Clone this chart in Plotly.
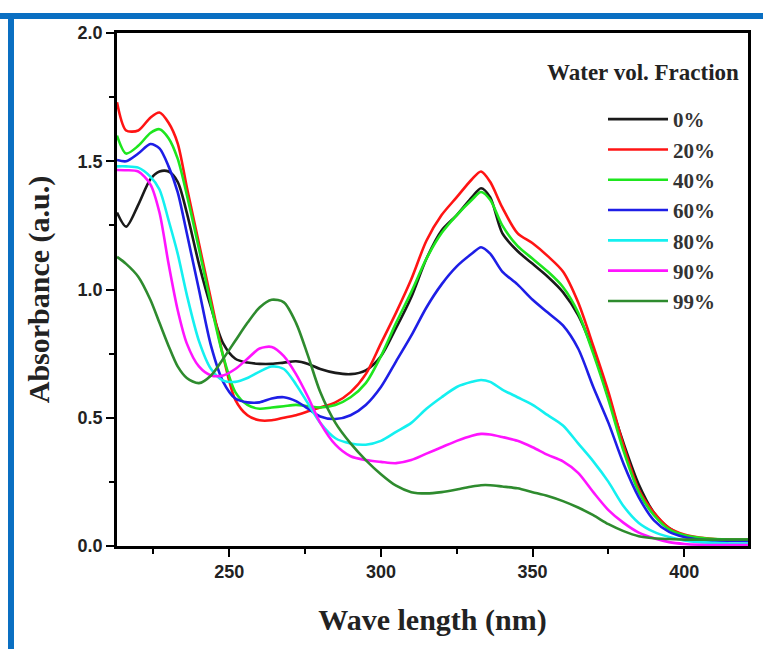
import plotly.graph_objects as go

wavelength = [213, 216, 220, 224, 227, 230, 233, 236, 240, 244, 248, 252, 256, 260, 264, 268,
              272, 276, 280, 285, 290, 295, 300, 305, 310, 315, 320, 325, 330, 333, 336, 340,
              345, 350, 355, 360, 365, 370, 375, 380, 385, 390, 395, 400, 405, 410, 415, 421]

abs_0 = [1.30, 1.245, 1.33, 1.43, 1.46, 1.46, 1.42, 1.30, 1.10, 0.93, 0.79, 0.73, 0.715, 0.71, 0.71, 0.715,
         0.72, 0.71, 0.69, 0.675, 0.67, 0.685, 0.74, 0.85, 0.97, 1.12, 1.23, 1.29, 1.36, 1.395, 1.36, 1.22,
         1.15, 1.10, 1.05, 0.99, 0.90, 0.76, 0.58, 0.40, 0.24, 0.13, 0.07, 0.04, 0.03, 0.025, 0.022, 0.02]
abs_20 = [1.73, 1.62, 1.62, 1.67, 1.69, 1.65, 1.57, 1.40, 1.18, 0.96, 0.74, 0.57, 0.51, 0.49, 0.49, 0.50,
          0.51, 0.525, 0.54, 0.56, 0.60, 0.67, 0.79, 0.91, 1.04, 1.19, 1.29, 1.36, 1.43, 1.46, 1.42, 1.32,
          1.22, 1.18, 1.13, 1.07, 0.95, 0.78, 0.60, 0.39, 0.22, 0.13, 0.07, 0.045, 0.033, 0.027, 0.025, 0.025]
abs_40 = [1.60, 1.53, 1.56, 1.61, 1.625, 1.59, 1.51, 1.37, 1.16, 0.94, 0.74, 0.60, 0.55, 0.535, 0.54, 0.545,
          0.55, 0.545, 0.54, 0.55, 0.58, 0.635, 0.74, 0.87, 0.99, 1.12, 1.22, 1.29, 1.35, 1.38, 1.35, 1.25,
          1.17, 1.12, 1.07, 1.01, 0.91, 0.75, 0.57, 0.37, 0.21, 0.12, 0.065, 0.042, 0.032, 0.027, 0.025, 0.025]
abs_60 = [1.505, 1.50, 1.53, 1.567, 1.55, 1.48, 1.38, 1.22, 1.00, 0.78, 0.64, 0.575, 0.56, 0.56, 0.575, 0.58,
          0.565, 0.535, 0.505, 0.495, 0.51, 0.55, 0.62, 0.72, 0.82, 0.93, 1.02, 1.09, 1.14, 1.165, 1.14, 1.07,
          1.02, 0.96, 0.91, 0.86, 0.77, 0.62, 0.48, 0.32, 0.19, 0.10, 0.055, 0.035, 0.025, 0.02, 0.02, 0.02]
abs_80 = [1.48, 1.48, 1.475, 1.44, 1.39, 1.27, 1.14, 0.98, 0.80, 0.69, 0.645, 0.64, 0.655, 0.68, 0.70, 0.69,
          0.63, 0.555, 0.48, 0.42, 0.40, 0.395, 0.41, 0.445, 0.48, 0.535, 0.58, 0.62, 0.64, 0.647, 0.64, 0.61,
          0.58, 0.55, 0.51, 0.47, 0.40, 0.33, 0.25, 0.155, 0.09, 0.055, 0.035, 0.022, 0.015, 0.012, 0.01, 0.01]
abs_90 = [1.466, 1.465, 1.46, 1.41, 1.30, 1.10, 0.92, 0.79, 0.70, 0.665, 0.665, 0.69, 0.73, 0.77, 0.776, 0.74,
          0.67, 0.58, 0.48, 0.395, 0.35, 0.335, 0.328, 0.323, 0.335, 0.36, 0.385, 0.41, 0.43, 0.437, 0.435, 0.425,
          0.41, 0.385, 0.355, 0.33, 0.285, 0.21, 0.14, 0.09, 0.052, 0.03, 0.015, 0.008, 0.005, 0.004, 0.004, 0.004]
abs_99 = [1.127, 1.10, 1.05, 0.96, 0.87, 0.78, 0.70, 0.655, 0.635, 0.665, 0.73, 0.80, 0.87, 0.93, 0.96, 0.95,
          0.87, 0.74, 0.60, 0.48, 0.40, 0.335, 0.28, 0.235, 0.21, 0.205, 0.21, 0.22, 0.232, 0.237, 0.237, 0.232,
          0.225, 0.21, 0.195, 0.175, 0.15, 0.12, 0.085, 0.058, 0.038, 0.03, 0.027, 0.025, 0.025, 0.025, 0.025, 0.025]

series_names = ["0%", "20%", "40%", "60%", "80%", "90%", "99%"]
series_values = [abs_0, abs_20, abs_40, abs_60, abs_80, abs_90, abs_99]
series_colors = ["#1a1a1a", "#ff1414", "#1ee61e", "#1e1ee6", "#14f0f0", "#ff14ff", "#2e8b2e"]

x_ticks = [250, 300, 350, 400]
y_ticks = [0.0, 0.5, 1.0, 1.5, 2.0]

fig = go.Figure()
for i, (name, vals, col) in enumerate(zip(series_names, series_values, series_colors)):
    fig.add_trace(go.Scatter(
        x=wavelength, y=vals, name=name, mode="lines",
        line=dict(color=col, width=2.6, shape="spline", smoothing=0.8),
        legendgroup="g%d" % i,
    ))

W, H = 763, 649
L, R, T, B = 117, 15, 33, 103
pw, ph = W - L - R, H - T - B

def px(x):
    return (x - L) / pw

def py(y):
    return (H - B - y) / ph

axis_common = dict(
    showline=True, linecolor="black", linewidth=2.5, mirror=True,
    ticks="outside", ticklen=8, tickwidth=2, tickcolor="black",
    showgrid=False, zeroline=False,
    tickfont=dict(family="Liberation Sans", size=18, color="#222", weight="bold"),
)

fig.update_layout(
    width=W, height=H,
    margin=dict(l=L, r=R, t=T, b=B),
    paper_bgcolor="white", plot_bgcolor="white",
    xaxis=dict(range=[213, 421], tickvals=x_ticks,
               minor=dict(dtick=25, tick0=225, ticks="outside", ticklen=5, tickwidth=2, tickcolor="black"),
               title=dict(text="Wave length (nm)", standoff=28,
                          font=dict(family="Liberation Serif", size=30, color="#222", weight="bold")),
               **axis_common),
    yaxis=dict(range=[0, 2.0], tickvals=y_ticks, tickformat=".1f",
               minor=dict(dtick=0.25, tick0=0, ticks="outside", ticklen=5, tickwidth=2, tickcolor="black"),
               title=dict(text="Absorbance (a.u.)", standoff=20,
                          font=dict(family="Liberation Serif", size=30, color="#222", weight="bold")),
               **axis_common),
    legend=dict(
        x=px(603), y=py(99), xanchor="left", yanchor="top",
        bgcolor="rgba(0,0,0,0)", borderwidth=0,
        font=dict(family="Liberation Serif", size=21, color="#333", weight="bold"),
        itemwidth=60, tracegroupgap=7, traceorder="normal",
    ),
    annotations=[dict(
        text="Water vol. Fraction", xref="paper", yref="paper",
        x=px(741), y=py(72), xanchor="right", yanchor="middle", showarrow=False,
        font=dict(family="Liberation Serif", size=23, color="#222", weight="bold"),
    )],
    shapes=[
        dict(type="rect", xref="paper", yref="paper", x0=px(0), x1=px(W), y0=py(13), y1=py(19),
             fillcolor="#0a6fc2", line=dict(width=0), layer="above"),
        dict(type="rect", xref="paper", yref="paper", x0=px(8), x1=px(14), y0=py(13), y1=py(H),
             fillcolor="#0a6fc2", line=dict(width=0), layer="above"),
    ],
)

fig.write_html("out.html")
